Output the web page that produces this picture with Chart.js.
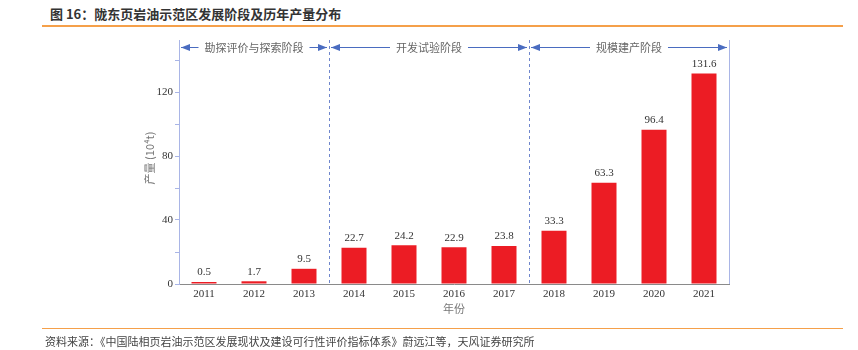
<!DOCTYPE html>
<html>
<head>
<meta charset="utf-8">
<script src="https://cdn.jsdelivr.net/npm/chart.js@4"></script>
<style>
  body { margin: 0; background: #fff; width: 858px; height: 350px; position: relative; overflow: hidden; }
  #title { position: absolute; left: 50px; top: 4px; font: bold 13px "Noto Sans CJK SC", sans-serif; color: #333; }
  #topline { position: absolute; left: 42px; top: 25px; width: 801px; height: 2px; background: #f5a04a; }
  #footline { position: absolute; left: 42px; top: 328px; width: 801px; height: 1px; background: #f5a04a; }
  #source { position: absolute; left: 45px; top: 333px; font: 11px "Noto Sans CJK SC", sans-serif; color: #444; }
  #wrap { position: absolute; left: 0; top: 0; width: 858px; height: 350px; }
</style>
</head>
<body>
<div id="title">图 16：陇东页岩油示范区发展阶段及历年产量分布</div>
<div id="topline"></div>
<div id="wrap"><canvas id="chart"></canvas></div>
<div id="footline"></div>
<div id="source">资料来源：《中国陆相页岩油示范区发展现状及建设可行性评价指标体系》蔚远江等，天风证券研究所</div>
<script>
// years and annual output (10^4 t)
const years = ['2011', '2012', '2013', '2014', '2015', '2016', '2017', '2018', '2019', '2020', '2021'];
const output = [0.5, 1.7, 9.5, 22.7, 24.2, 22.9, 23.8, 33.3, 63.3, 96.4, 131.6];

// development stages: name, first and last category index
const stageNames = ['勘探评价与探索阶段', '开发试验阶段', '规模建产阶段'];
const stageStart = [0, 3, 7];
const stageEnd = [2, 6, 10];

const serif = '"Liberation Serif", "Times New Roman", serif';
const axisBlue = '#a9b5e6';
const stageBlue = '#4a6cc0';

// bar value labels, stage dividers and arrows, axis titles
const overlay = {
    id: 'overlay',
    afterDatasetsDraw(chart) {
        const ctx = chart.ctx;
        const area = chart.chartArea;
        const x = chart.scales.x;
        const meta = chart.getDatasetMeta(0);

        ctx.save();
        ctx.font = '11px ' + serif;
        ctx.fillStyle = '#333';
        ctx.textAlign = 'center';
        ctx.textBaseline = 'bottom';
        meta.data.forEach((bar, i) => {
            ctx.fillText(output[i].toFixed(1), bar.x, bar.y - 4);
        });

        // right frame line
        ctx.strokeStyle = axisBlue;
        ctx.lineWidth = 1;
        ctx.beginPath();
        ctx.moveTo(area.right + 0.5, area.top);
        ctx.lineTo(area.right + 0.5, area.bottom);
        ctx.stroke();

        // dashed stage dividers
        ctx.strokeStyle = '#6f86cc';
        ctx.setLineDash([3, 3]);
        for (let s = 1; s < stageStart.length; s++) {
            const dx = Math.round((x.getPixelForValue(stageStart[s] - 1) + x.getPixelForValue(stageStart[s])) / 2) + 0.5;
            ctx.beginPath();
            ctx.moveTo(dx, area.top);
            ctx.lineTo(dx, area.bottom);
            ctx.stroke();
        }
        ctx.setLineDash([]);

        // stage arrows with names
        const ay = area.top + 7.5;
        const half = (x.getPixelForValue(1) - x.getPixelForValue(0)) / 2;
        ctx.font = '11px "Noto Sans CJK SC", sans-serif';
        ctx.textBaseline = 'middle';
        stageNames.forEach((name, s) => {
            const x0 = x.getPixelForValue(stageStart[s]) - half + 2;
            const x1 = x.getPixelForValue(stageEnd[s]) + half - 2;
            const cx = (x0 + x1) / 2;
            const tw = ctx.measureText(name).width + 12;
            ctx.strokeStyle = stageBlue;
            ctx.fillStyle = stageBlue;
            ctx.beginPath();
            ctx.moveTo(x0, ay);
            ctx.lineTo(cx - tw / 2, ay);
            ctx.moveTo(cx + tw / 2, ay);
            ctx.lineTo(x1, ay);
            ctx.stroke();
            ctx.beginPath();
            ctx.moveTo(x0, ay);
            ctx.lineTo(x0 + 9, ay - 3.5);
            ctx.lineTo(x0 + 9, ay + 3.5);
            ctx.closePath();
            ctx.moveTo(x1, ay);
            ctx.lineTo(x1 - 9, ay - 3.5);
            ctx.lineTo(x1 - 9, ay + 3.5);
            ctx.closePath();
            ctx.fill();
            ctx.fillStyle = '#666';
            ctx.fillText(name, cx, ay);
        });

        // axis titles
        ctx.fillStyle = '#777';
        ctx.font = '11px "Noto Sans CJK SC", sans-serif';
        ctx.fillText('年份', (area.left + area.right) / 2, area.bottom + 25);
        ctx.translate(150, (area.top + area.bottom) / 2 - 4);
        ctx.rotate(-Math.PI / 2);
        ctx.fillText('产量 (10⁴t)', 0, 0);
        ctx.restore();
    }
};

const canvas = document.getElementById('chart').getContext('2d');

const myChart = new Chart(canvas, {
    type: 'bar',
    data: {
        labels: years,
        datasets: [{
            data: output,
            backgroundColor: '#ec1c24',
            barPercentage: 0.5,
            categoryPercentage: 1,
            minBarLength: 2
        }]
    },
    options: {
        responsive: true,
        maintainAspectRatio: false,
        animation: false,
        layout: {
            padding: { left: 0, right: 129, top: 40, bottom: 36 }
        },
        scales: {
            x: {
                afterFit: (scale) => { scale.height = 30; },
                grid: { display: false, drawTicks: false, tickLength: 0 },
                border: { color: '#8a8a8a' },
                ticks: {
                    color: '#333',
                    padding: 4,
                    font: { size: 11, family: serif }
                }
            },
            y: {
                min: 0,
                max: 152.5,
                afterFit: (scale) => { scale.width = 179; },
                border: { color: axisBlue },
                grid: {
                    drawOnChartArea: false,
                    tickLength: 4,
                    color: (c) => (c.tick && c.tick.value % 20 === 0) ? axisBlue : 'rgba(0,0,0,0)'
                },
                ticks: {
                    stepSize: 20,
                    padding: 2,
                    color: '#333',
                    font: { size: 11, family: serif },
                    callback: (v) => v % 40 === 0 ? v : ''
                }
            }
        },
        plugins: {
            legend: { display: false },
            tooltip: { enabled: false }
        }
    },
    plugins: [overlay]
});
</script>
</body>
</html>
